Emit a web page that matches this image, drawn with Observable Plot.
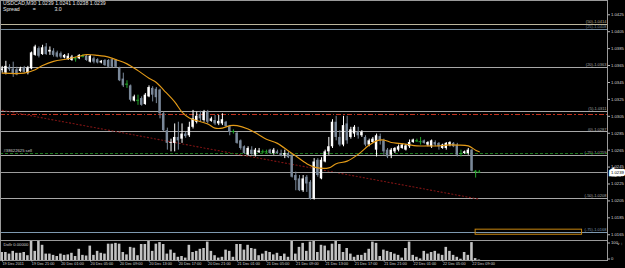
<!DOCTYPE html>
<html><head><meta charset="utf-8">
<script src="https://cdn.jsdelivr.net/npm/d3@7"></script>
<script src="https://cdn.jsdelivr.net/npm/@observablehq/plot@0.6"></script>
<style>
html,body{margin:0;padding:0;background:#000;}
#wrap{position:relative;width:625px;height:268px;background:#000;overflow:hidden;font-family:"Liberation Sans",Arial,sans-serif;}
#price{position:absolute;left:0;top:0;}
#vol{position:absolute;left:0;top:239px;}
#title{position:absolute;left:3px;top:1px;color:#e6e6e6;font-size:5.2px;line-height:5.6px;white-space:pre;}
</style></head><body>
<div id="wrap"><div id="price"></div><div id="vol"></div><div id="title"></div></div>
<script>
// ---- data ----
const symbol = "USDCAD,M30";
const spreadValue = "3.0";
const opens = [1.0359,1.0356,1.0363,1.0361,1.0360,1.0358,1.0362,1.0356,1.0361,1.0377,1.0385,1.0378,1.0387,1.0381,1.0382,1.0380,1.0379,1.0374,1.0372,1.0371,1.0373,1.0373,1.0376,1.0376,1.0369,1.0373,1.0372,1.0368,1.0371,1.0371,1.0372,1.0371,1.0362,1.0349,1.0343,1.0341,1.0323,1.0324,1.0326,1.0319,1.0328,1.0338,1.0337,1.0336,1.0308,1.0288,1.0273,1.0273,1.0280,1.0278,1.0284,1.0282,1.0292,1.0298,1.0307,1.0300,1.0310,1.0299,1.0300,1.0296,1.0296,1.0298,1.0293,1.0287,1.0285,1.0276,1.0269,1.0259,1.0265,1.0259,1.0262,1.0263,1.0263,1.0265,1.0261,1.0263,1.0261,1.0259,1.0261,1.0259,1.0235,1.0231,1.0217,1.0233,1.0227,1.0207,1.0253,1.0231,1.0251,1.0263,1.0269,1.0298,1.0280,1.0271,1.0296,1.0280,1.0284,1.0286,1.0282,1.0280,1.0271,1.0274,1.0265,1.0281,1.0276,1.0265,1.0259,1.0263,1.0265,1.0267,1.0265,1.0269,1.0274,1.0276,1.0275,1.0276,1.0271,1.0269,1.0274,1.0273,1.0267,1.0267,1.0271,1.0273,1.0271,1.0261,1.0261,1.0261,1.0265,1.0240,1.0239];
const highs = [1.0364,1.0370,1.0366,1.0369,1.0363,1.0363,1.0364,1.0364,1.0381,1.0389,1.0387,1.0389,1.0391,1.0387,1.0385,1.0382,1.0381,1.0378,1.0379,1.0377,1.0375,1.0378,1.0378,1.0377,1.0377,1.0375,1.0373,1.0371,1.0372,1.0372,1.0373,1.0372,1.0363,1.0356,1.0347,1.0342,1.0330,1.0330,1.0328,1.0332,1.0341,1.0340,1.0339,1.0337,1.0310,1.0291,1.0278,1.0296,1.0298,1.0296,1.0286,1.0298,1.0312,1.0310,1.0311,1.0312,1.0312,1.0304,1.0306,1.0306,1.0308,1.0299,1.0294,1.0289,1.0286,1.0277,1.0270,1.0269,1.0269,1.0267,1.0267,1.0265,1.0265,1.0266,1.0267,1.0265,1.0265,1.0265,1.0263,1.0260,1.0239,1.0235,1.0235,1.0235,1.0229,1.0255,1.0255,1.0256,1.0265,1.0280,1.0301,1.0305,1.0288,1.0305,1.0305,1.0292,1.0294,1.0292,1.0288,1.0282,1.0278,1.0280,1.0284,1.0284,1.0278,1.0267,1.0267,1.0268,1.0271,1.0272,1.0272,1.0277,1.0278,1.0278,1.0280,1.0277,1.0275,1.0277,1.0276,1.0274,1.0272,1.0274,1.0275,1.0274,1.0273,1.0265,1.0264,1.0267,1.0266,1.0241,1.0241];
const lows = [1.0356,1.0354,1.0358,1.0351,1.0353,1.0357,1.0356,1.0354,1.0360,1.0376,1.0374,1.0377,1.0377,1.0377,1.0375,1.0374,1.0373,1.0373,1.0371,1.0370,1.0369,1.0372,1.0374,1.0370,1.0368,1.0367,1.0367,1.0367,1.0364,1.0362,1.0362,1.0362,1.0346,1.0339,1.0338,1.0322,1.0322,1.0318,1.0317,1.0318,1.0327,1.0322,1.0320,1.0302,1.0287,1.0265,1.0263,1.0263,1.0265,1.0273,1.0279,1.0280,1.0290,1.0296,1.0298,1.0298,1.0296,1.0298,1.0294,1.0294,1.0294,1.0292,1.0282,1.0284,1.0272,1.0265,1.0260,1.0259,1.0259,1.0257,1.0261,1.0261,1.0261,1.0260,1.0259,1.0260,1.0257,1.0255,1.0255,1.0232,1.0217,1.0216,1.0215,1.0215,1.0206,1.0206,1.0233,1.0230,1.0250,1.0259,1.0267,1.0276,1.0269,1.0269,1.0272,1.0278,1.0280,1.0278,1.0280,1.0269,1.0269,1.0273,1.0257,1.0271,1.0259,1.0255,1.0255,1.0261,1.0263,1.0266,1.0264,1.0267,1.0273,1.0274,1.0271,1.0272,1.0269,1.0267,1.0269,1.0265,1.0266,1.0265,1.0269,1.0268,1.0257,1.0257,1.0260,1.0259,1.0239,1.0232,1.0238];
const closes = [1.0361,1.0364,1.0360,1.0355,1.0354,1.0361,1.0357,1.0362,1.0380,1.0387,1.0376,1.0386,1.0378,1.0383,1.0377,1.0375,1.0375,1.0377,1.0376,1.0375,1.0373,1.0377,1.0376,1.0371,1.0376,1.0369,1.0368,1.0370,1.0365,1.0363,1.0363,1.0363,1.0347,1.0341,1.0343,1.0324,1.0328,1.0324,1.0318,1.0330,1.0339,1.0330,1.0327,1.0308,1.0288,1.0273,1.0274,1.0280,1.0276,1.0284,1.0281,1.0292,1.0302,1.0305,1.0302,1.0310,1.0298,1.0302,1.0296,1.0299,1.0301,1.0293,1.0286,1.0287,1.0273,1.0267,1.0261,1.0267,1.0260,1.0265,1.0264,1.0263,1.0263,1.0261,1.0265,1.0261,1.0258,1.0261,1.0256,1.0233,1.0229,1.0217,1.0231,1.0225,1.0207,1.0251,1.0235,1.0253,1.0263,1.0269,1.0298,1.0280,1.0271,1.0294,1.0276,1.0289,1.0292,1.0282,1.0286,1.0271,1.0276,1.0278,1.0282,1.0276,1.0263,1.0257,1.0265,1.0267,1.0269,1.0271,1.0270,1.0274,1.0277,1.0276,1.0275,1.0273,1.0274,1.0276,1.0271,1.0269,1.0271,1.0273,1.0274,1.0269,1.0259,1.0261,1.0263,1.0265,1.0240,1.0240,1.0239];
const volumes = [50,50,40,57,45,45,50,30,125,57,120,95,40,40,32,25,40,32,35,45,25,70,32,28,90,32,57,45,40,102,102,107,102,50,35,82,77,30,100,100,123,57,102,112,100,40,65,45,20,25,15,95,50,57,70,75,115,57,30,15,20,65,57,20,100,100,65,95,75,70,30,40,57,50,35,45,25,40,20,123,40,82,107,57,115,120,50,95,90,60,102,120,100,50,75,40,20,32,32,45,70,115,107,25,65,57,50,40,32,15,75,115,32,20,10,57,40,50,57,40,32,82,57,32,20,8,50,32,112,12,3];
const maIdx = [0,6,9,11,14,18,21,23,26,29,31,34,37,40,42,44,47,49,51,53,56,58,60,62,64,67,70,72,75,78,80,83,85,89,91,94,97,100,102,104,106,108,110,113,116,119,121,124,127,129,130];
const maVal = [1.0356,1.0356,1.0360,1.0365,1.0370,1.0373,1.0376,1.0378,1.0377,1.0375,1.0372,1.0367,1.0359,1.0350,1.0345,1.0336,1.0322,1.0310,1.0303,1.0300,1.0296,1.0291,1.0291,1.0294,1.0294,1.0290,1.0283,1.0278,1.0273,1.0264,1.0258,1.0249,1.0245,1.0244,1.0249,1.0252,1.0260,1.0271,1.0276,1.0277,1.0274,1.0273,1.0272,1.0270,1.0270,1.0270,1.0271,1.0271,1.0270,1.0265,1.0263];
const levelNames = ["(50)","(25)","(20)","(5)","(0)","(-25)","(-50)","(-75)"];
const levelPrices = [1.0414,1.0408,1.0363,1.0311,1.0287,1.0259,1.0208,1.0168];
const levelColors = ["#bcb59c","#72889a","#a8a8a8","#a8a8a8","#a8a8a8","#a8a8a8","#a8a8a8","#7e99b0"];
const redLinePrice = 1.0307;
const orderPrice = 1.0261;
const orderLabel = "#38622625 sell";
const bidPrice = 1.0239;
const trendIdx = [0,130];
const trendPrice = [1.0312,1.0207];
const boxIdx = [129,158];
const boxPrice = [1.0165,1.0171];
const priceTicks = [1.0165,1.0185,1.0205,1.0225,1.0245,1.0265,1.0285,1.0305,1.0325,1.0345,1.0365,1.0385,1.0405,1.0425];
const volTicks = [0,100];
const volLabel = "Dollr 0.00000";
const timeIdx = [0,8,16,24,32,40,48,56,64,72,80,88,96,104,112,120,128];
const timeLabels = ["19 Dec 2011","19 Dec 21:00","20 Dec 01:00","20 Dec 05:00","20 Dec 09:00","20 Dec 13:00","20 Dec 17:00","20 Dec 21:00","21 Dec 01:00","21 Dec 05:00","21 Dec 09:00","21 Dec 13:00","21 Dec 17:00","21 Dec 21:00","22 Dec 01:00","22 Dec 05:00","22 Dec 09:00"];

// ---- build ----
const last = opens.length - 1;
document.getElementById("title").textContent =
  `${symbol} ${opens[last].toFixed(4)} ${highs[last].toFixed(4)} ${lows[last].toFixed(4)} ${closes[last].toFixed(4)}\nSpread         =             ${spreadValue}`;

const bars = opens.map((o, i) => ({i, o, h: highs[i], l: lows[i], c: closes[i]}));
const UP = "#ffffff", DOWN = "#7a8899", DOJI = "#23a32a";
const col = d => d.c > d.o ? UP : d.c < d.o ? DOWN : DOJI;
const bodies = bars.filter(d => d.c !== d.o);
const dojis = bars.filter(d => d.c === d.o);
const ma = maIdx.map((x, k) => ({x, y: maVal[k]}));
const trend = trendIdx.map((x, k) => ({x, y: trendPrice[k]}));
const box = [{x1: boxIdx[0], x2: boxIdx[1], y1: boxPrice[0], y2: boxPrice[1]}];

const xs = {type: "linear", domain: [-0.463, 164.93], axis: null};
const font = "Liberation Sans, Arial, sans-serif";

const pricePlot = Plot.plot({
  width: 625, height: 240, marginTop: 0, marginBottom: 0, marginLeft: 0, marginRight: 18,
  style: {background: "#000", color: "#ddd", fontFamily: font, overflow: "visible"},
  color: {type: "identity"},
  x: xs,
  y: {domain: [1.01582, 1.04419], axis: null},
  marks: [
    Plot.ruleY(levelPrices, {y: d => d, stroke: (d, i) => levelColors[i], shapeRendering: "crispEdges"}),
    Plot.text(levelPrices, {y: d => d, text: (d, i) => `${levelNames[i]}-${d.toFixed(4)}`, frameAnchor: "right", textAnchor: "end", lineAnchor: "bottom", dx: -1, dy: -1, fontSize: 4, fill: (d, i) => levelColors[i]}),
    Plot.ruleY([redLinePrice], {y: d => d, stroke: "#c2321e", strokeDasharray: "5,2,1.5,2", shapeRendering: "crispEdges"}),
    Plot.line(trend, {x: "x", y: "y", stroke: "#7e1414", strokeWidth: 1.1, strokeDasharray: "1.2,2.4"}),
    Plot.ruleY([orderPrice], {y: d => d, stroke: "#1d7a1d", strokeDasharray: "3,2", shapeRendering: "crispEdges"}),
    Plot.text([orderPrice], {y: d => d, text: [orderLabel], frameAnchor: "left", textAnchor: "start", lineAnchor: "bottom", dx: 3, dy: -1.5, fontSize: 4.2, fill: "#d0d0d0"}),
    Plot.ruleY([bidPrice], {y: d => d, stroke: "#9c9c9c", shapeRendering: "crispEdges"}),
    Plot.rect(box, {x1: "x1", x2: "x2", y1: "y1", y2: "y2", stroke: "#c8860f", fill: "none"}),
    Plot.ruleX(bars, {x: "i", y1: "l", y2: "h", stroke: col, strokeWidth: 1}),
    Plot.rect(bodies, {x1: d => d.i - 0.33, x2: d => d.i + 0.33, y1: "o", y2: "c", fill: col}),
    Plot.ruleY(dojis, {y: "c", x1: d => d.i - 0.42, x2: d => d.i + 0.42, stroke: DOJI}),
    Plot.line(ma, {x: "x", y: "y", curve: "catmull-rom", stroke: "#e39a17", strokeWidth: 1.15}),
    Plot.frame({stroke: "#9a9a9a"}),
    Plot.axisY(priceTicks, {anchor: "right", tickSize: 2, tickPadding: 1.5, fontSize: 4.2, stroke: "#bdbdbd", fill: "#d6d6d6", tickFormat: d => d.toFixed(4)}),
    Plot.text([bidPrice], {y: d => d, text: d => d.toFixed(4), frameAnchor: "right", textAnchor: "start", dx: 3.5, fontSize: 4.2, fill: "#000", stroke: "#fff", strokeWidth: 4.5, strokeLinejoin: "miter"})
  ]
});
document.getElementById("price").appendChild(pricePlot);

const volPlot = Plot.plot({
  width: 625, height: 29, marginTop: 1, marginBottom: 8, marginLeft: 0, marginRight: 18,
  style: {background: "transparent", color: "#ddd", fontFamily: font, overflow: "visible"},
  x: xs,
  y: {domain: [0, 125], axis: null},
  marks: [
    Plot.rect(volumes.map((v, i) => ({i, v})), {x1: d => d.i - 0.35, x2: d => d.i + 0.35, y1: 0, y2: "v", fill: "#c2c2c2"}),
    Plot.frame({stroke: "#9a9a9a"}),
    Plot.text([volLabel], {frameAnchor: "top-left", dx: 3, dy: 2.5, fontSize: 4.2, fill: "#d0d0d0"}),
    Plot.axisY(volTicks, {anchor: "right", tickSize: 2, tickPadding: 1.5, fontSize: 4.2, dy: -1.5, stroke: "#bdbdbd", fill: "#d6d6d6"}),
    Plot.axisX(timeIdx, {anchor: "bottom", tickSize: 1.5, tickPadding: 0.5, textAnchor: "start", dx: 0.3, fontSize: 3.8, stroke: "#bdbdbd", fill: "#d6d6d6", tickFormat: d => timeLabels[timeIdx.indexOf(d)]})
  ]
});
document.getElementById("vol").appendChild(volPlot);
</script></body></html>
